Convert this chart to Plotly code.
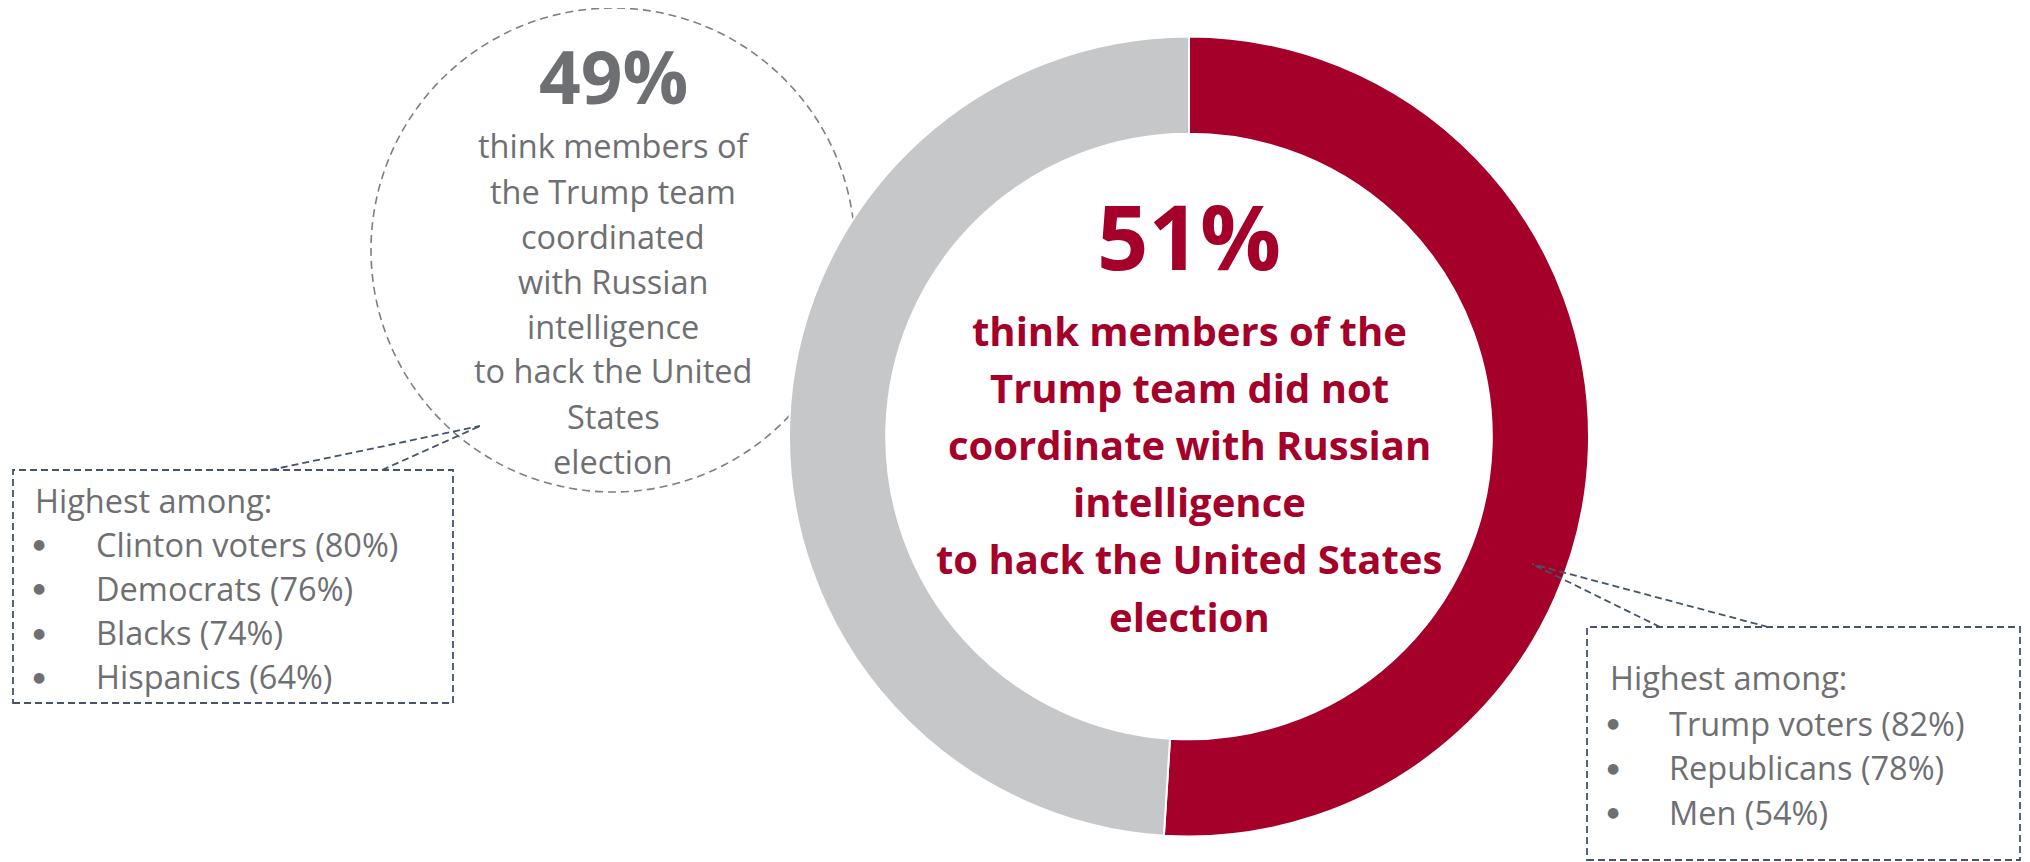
import plotly.graph_objects as go

# ---- data ----
slice_labels = ["Did not coordinate", "Coordinated"]
slice_values = [51, 49]
slice_colors = ["#A50029", "#C6C7C9"]

left_big = "49%"
left_lines = ["think members of", "the Trump team", "coordinated", "with Russian",
              "intelligence", "to hack the United", "States", "election"]
center_big = "51%"
center_lines = ["think members of the", "Trump team did not", "coordinate with Russian",
                "intelligence", "to hack the United States", "election"]
box_title = "Highest among:"
left_groups = ["Clinton voters (80%)", "Democrats (76%)", "Blacks (74%)", "Hispanics (64%)"]
right_groups = ["Trump voters (82%)", "Republicans (78%)", "Men (54%)"]

# page has an 8px body margin: work in page pixels and convert
OFF = 8
W, H = 2030 - OFF, 862 - OFF
RED = "#A50029"
GRAY_TXT = "#6E6F73"
DASH_DARK = "#44546A"
DASH_GRAY = "#7F7F7F"
FONT = "Open Sans"


def px(x):
    return (x - OFF) / W


def py(y):
    return 1 - (y - OFF) / H


fig = go.Figure()

cx, cy, R = 1189, 436.5, 400
fig.add_trace(go.Pie(
    labels=slice_labels, values=slice_values, hole=0.757,
    sort=False, direction="clockwise", rotation=0,
    marker=dict(colors=slice_colors, line=dict(color="white", width=2)),
    textinfo="none", hoverinfo="label+percent", showlegend=False,
    domain=dict(x=[px(cx - R), px(cx + R)], y=[py(cy + R), py(cy - R)]),
))

shapes = []
# dashed circle behind donut
ccx, ccy, cr = 613, 250, 242
shapes.append(dict(type="circle", xref="paper", yref="paper", layer="below",
                   x0=px(ccx - cr), x1=px(ccx + cr), y0=py(ccy + cr), y1=py(ccy - cr),
                   line=dict(color=DASH_GRAY, width=1.6, dash="8px,5px")))


def box(x0, y0, x1, y1):
    return dict(type="rect", xref="paper", yref="paper", layer="above",
                x0=px(x0), x1=px(x1), y0=py(y1), y1=py(y0),
                line=dict(color=DASH_DARK, width=1.8, dash="7px,4px"))


def seg(x0, y0, x1, y1):
    return dict(type="line", xref="paper", yref="paper", layer="above",
                x0=px(x0), x1=px(x1), y0=py(y0), y1=py(y1),
                line=dict(color=DASH_DARK, width=1.8, dash="7px,4px"))


shapes.append(box(13, 470, 453, 703))
shapes.append(seg(270, 470, 480, 426))
shapes.append(seg(382, 470, 480, 426))
shapes.append(box(1587, 627, 2020, 860))
shapes.append(seg(1660, 627, 1532, 564))
shapes.append(seg(1768, 627, 1532, 564))

ann = []


def txt(x, y, s, size, color, bold=False, anchor="center", family=FONT):
    ann.append(dict(x=px(x), y=py(y), xref="paper", yref="paper",
                    text=("<b>%s</b>" % s) if bold else s,
                    showarrow=False, xanchor=anchor, yanchor="middle",
                    font=dict(family=family, size=size, color=color)))


# left circle text
txt(613, 76, left_big, 73, GRAY_TXT, bold=True)
for i, s in enumerate(left_lines):
    txt(613, 146 + i * 45, s, 32.5, GRAY_TXT)

# center text
txt(1189, 235, center_big, 90, RED, bold=True)
for i, s in enumerate(center_lines):
    txt(1189, 330 + i * 57.2, s, 40, RED, bold=True)

# left box
BS = 32.5
BULLET = "●"
txt(33, 500, box_title, BS, GRAY_TXT, anchor="left")
for i, s in enumerate(left_groups):
    yy = 544 + i * 44.3
    txt(39, yy, BULLET, 14, GRAY_TXT, family="DejaVu Sans")
    txt(94, yy, s, BS, GRAY_TXT, anchor="left")

# right box
txt(1608, 677, box_title, BS, GRAY_TXT, anchor="left")
for i, s in enumerate(right_groups):
    yy = 723 + i * 44.5
    txt(1613, yy, BULLET, 14, GRAY_TXT, family="DejaVu Sans")
    txt(1667, yy, s, BS, GRAY_TXT, anchor="left")

fig.update_layout(width=W, height=H, margin=dict(l=0, r=0, t=0, b=0),
                  paper_bgcolor="white", plot_bgcolor="white",
                  shapes=shapes, annotations=ann)

fig.write_html("out.html")
